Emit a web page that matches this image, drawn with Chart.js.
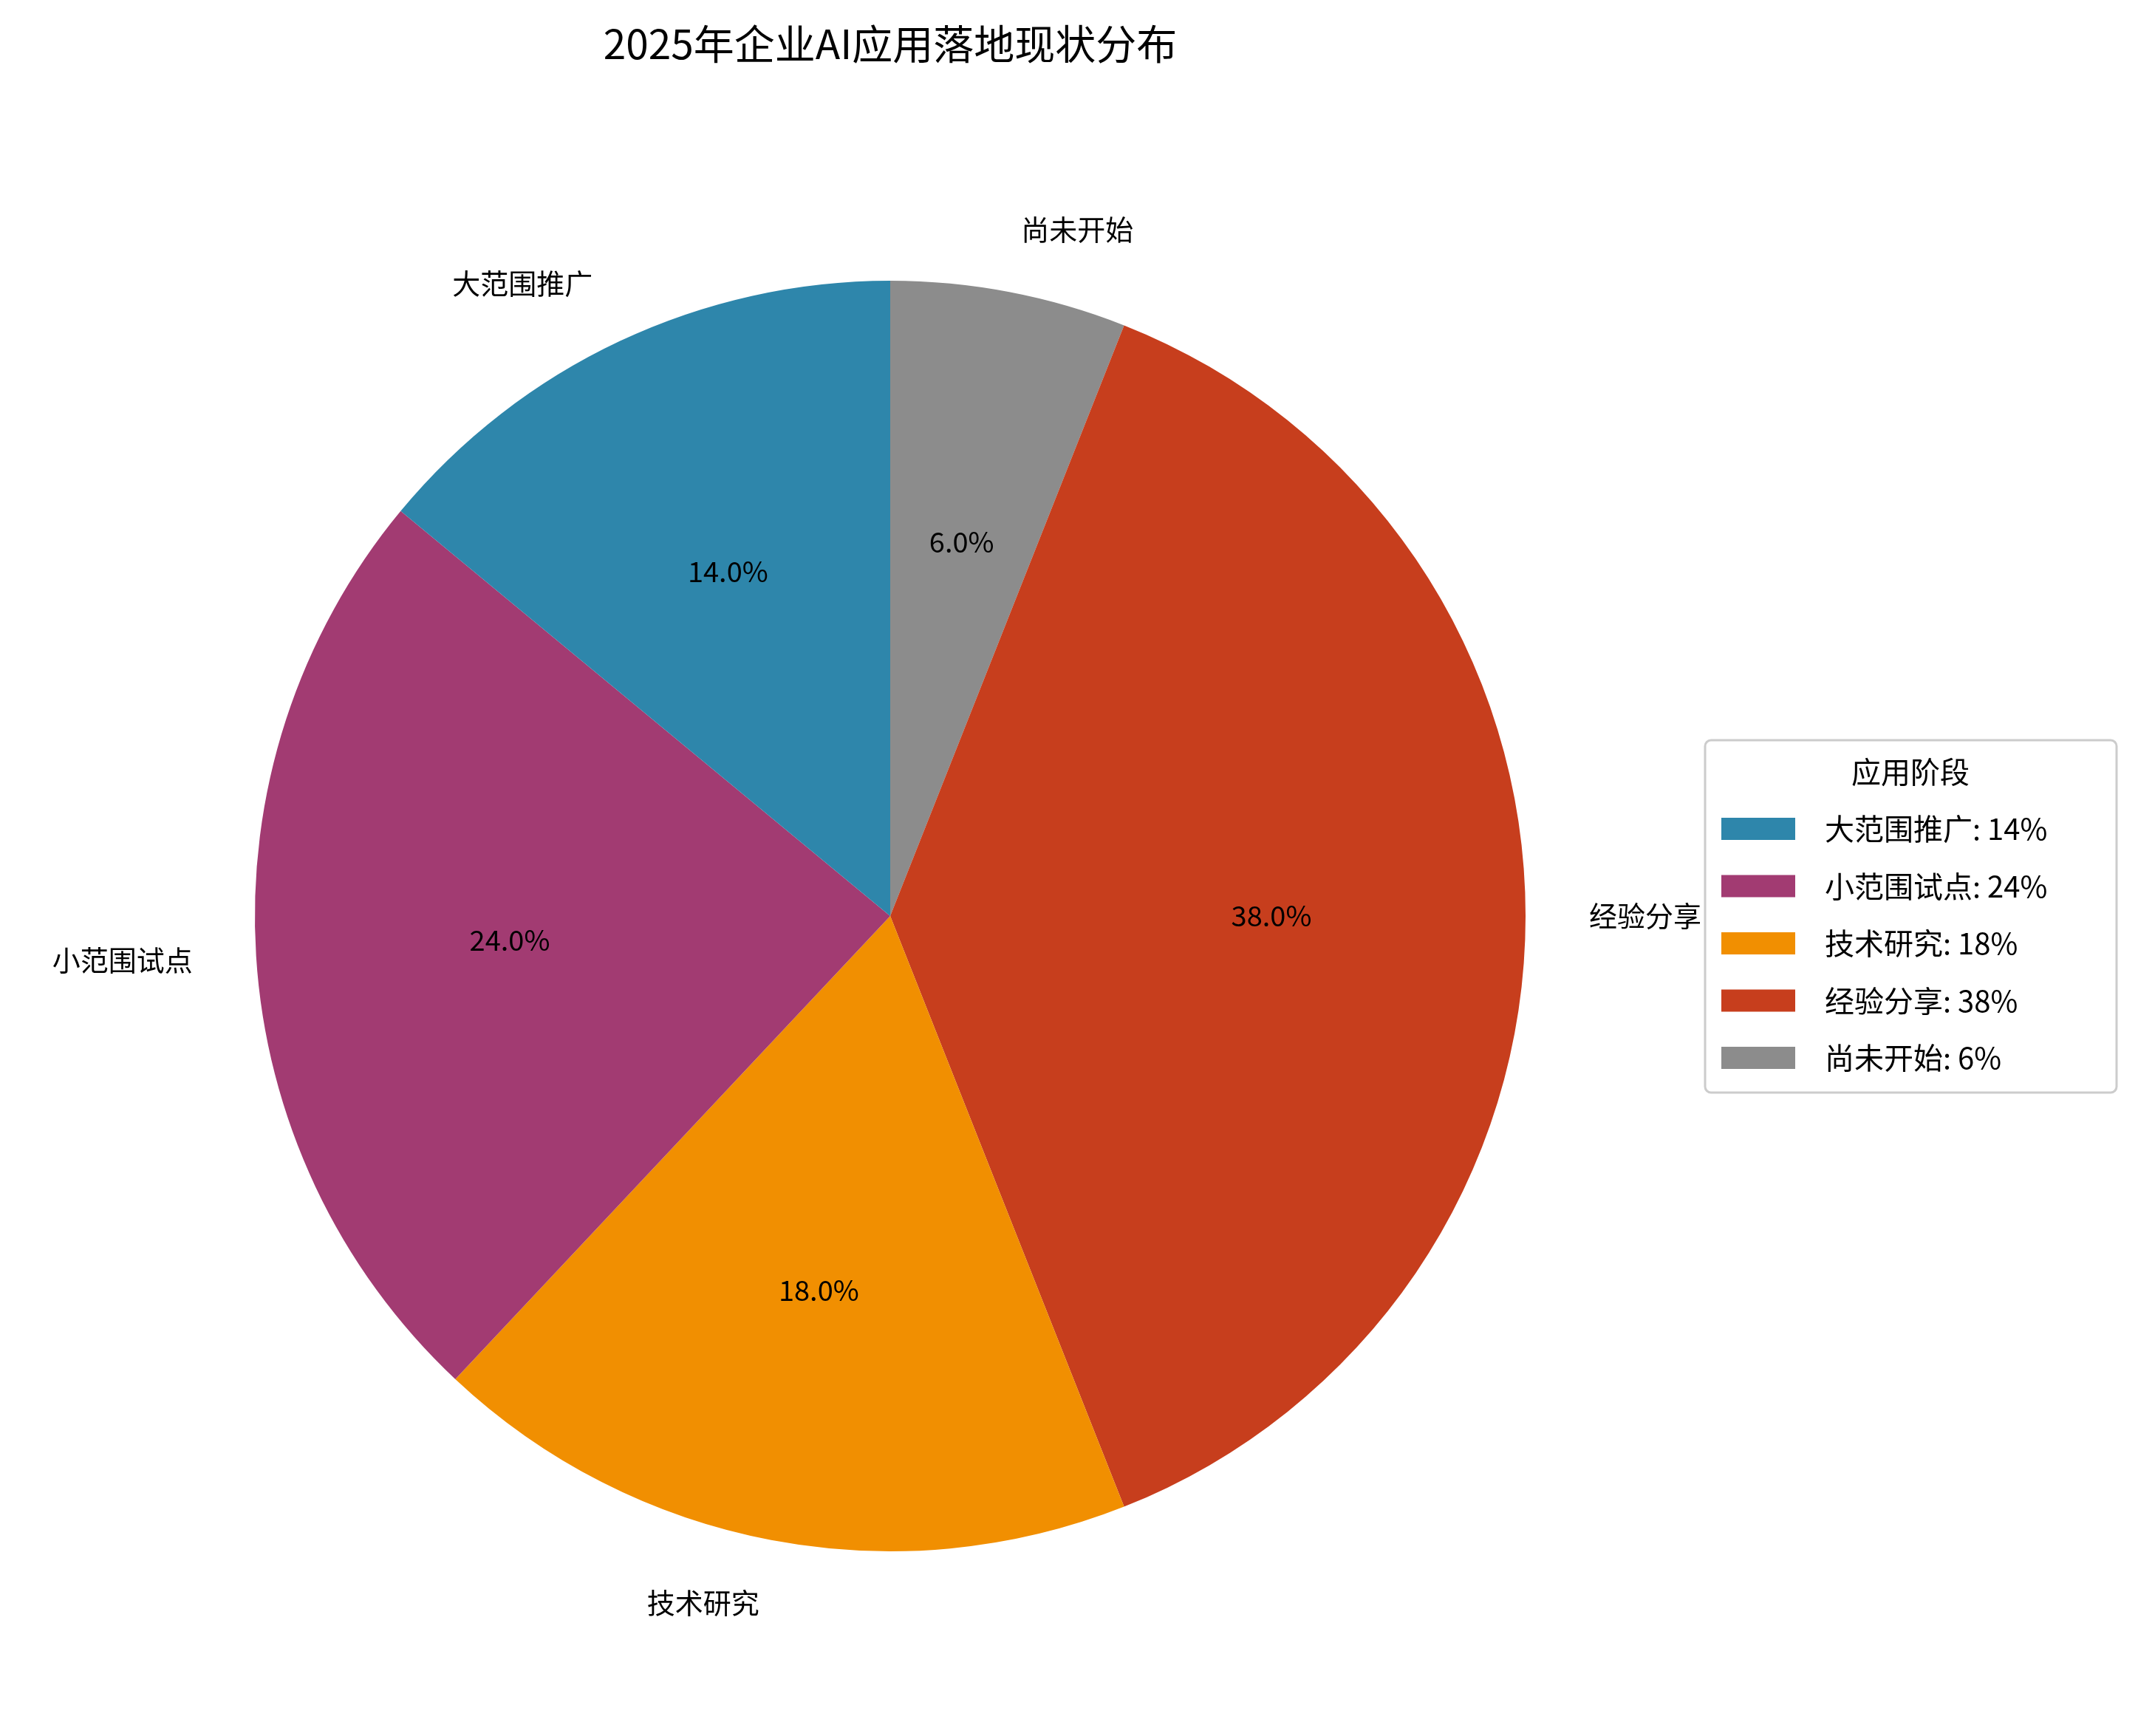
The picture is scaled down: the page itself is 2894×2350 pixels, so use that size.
<!DOCTYPE html>
<html><head><meta charset="utf-8">
<script src="https://cdn.jsdelivr.net/npm/chart.js@4/dist/chart.umd.min.js"></script>
<style>html,body{margin:0;padding:0;background:#fff}</style>
</head><body>
<canvas id="c" width="2894" height="2350" style="width:2894px;height:2350px"></canvas>
<script>
const categories = ["大范围推广","小范围试点","技术研究","经验分享","尚未开始"];
const values = [14,24,18,38,6];
const colors = ["#2E86AB","#A23B72","#F18F01","#C73E1D","#8C8C8C"];
const titleText = "2025年企业AI应用落地现状分布";
const legendTitle = "应用阶段";
const FONT = '"Noto Sans CJK SC","Noto Sans",sans-serif';
// matplotlib draws counter-clockwise from top; Chart.js draws clockwise, so reverse
const ord = categories.map((_,i)=>i).reverse();
const total = values.reduce((a,b)=>a+b,0);
const deco = {
  id:'deco',
  afterDraw(chart){
    const ctx = chart.ctx;
    ctx.save();
    ctx.fillStyle='#000';
    ctx.font = '55px '+FONT; ctx.textAlign='center'; ctx.textBaseline='middle';
    ctx.fillText(titleText,1205,59);
    const meta = chart.getDatasetMeta(0);
    meta.data.forEach((arc,j)=>{
      const i = ord[j];
      const mid=(arc.startAngle+arc.endAngle)/2, r=arc.outerRadius;
      const cx=arc.x, cy=arc.y;
      ctx.font='38px '+FONT; ctx.textBaseline='middle';
      const lx=cx+Math.cos(mid)*r*1.1, ly=cy+Math.sin(mid)*r*1.1;
      ctx.textAlign = Math.cos(mid)>=0?'left':'right';
      ctx.fillText(categories[i],lx,ly);
      ctx.textAlign='center';
      ctx.fillText((values[i]/total*100).toFixed(1)+'%',cx+Math.cos(mid)*r*0.6,cy+Math.sin(mid)*r*0.6);
    });
    // legend
    ctx.fillStyle='#fff'; ctx.strokeStyle='#cccccc'; ctx.lineWidth=3;
    ctx.beginPath(); ctx.roundRect(2308,1002,557,477,8); ctx.fill(); ctx.stroke();
    ctx.fillStyle='#000'; ctx.font='40px '+FONT; ctx.textAlign='center';
    ctx.fillText(legendTitle,2586,1045);
    ctx.textAlign='left'; ctx.font='40px '+FONT;
    categories.forEach((c,i)=>{
      const y=1122+i*77.5;
      ctx.fillStyle=colors[i]; ctx.fillRect(2330,y-15,100,30);
      ctx.fillStyle='#000'; ctx.fillText(c+': '+values[i]+'%',2470,y);
    });
    ctx.restore();
  }
};
new Chart(document.getElementById('c'),{
  type:'pie',
  data:{labels:ord.map(i=>categories[i]),datasets:[{data:ord.map(i=>values[i]),backgroundColor:ord.map(i=>colors[i]),borderWidth:0}]},
  options:{responsive:false,animation:false,devicePixelRatio:1,
    layout:{padding:{left:345,top:380,right:829,bottom:250}},
    plugins:{legend:{display:false},tooltip:{enabled:false},title:{display:false}}},
  plugins:[deco]
});
</script>
</body></html>
